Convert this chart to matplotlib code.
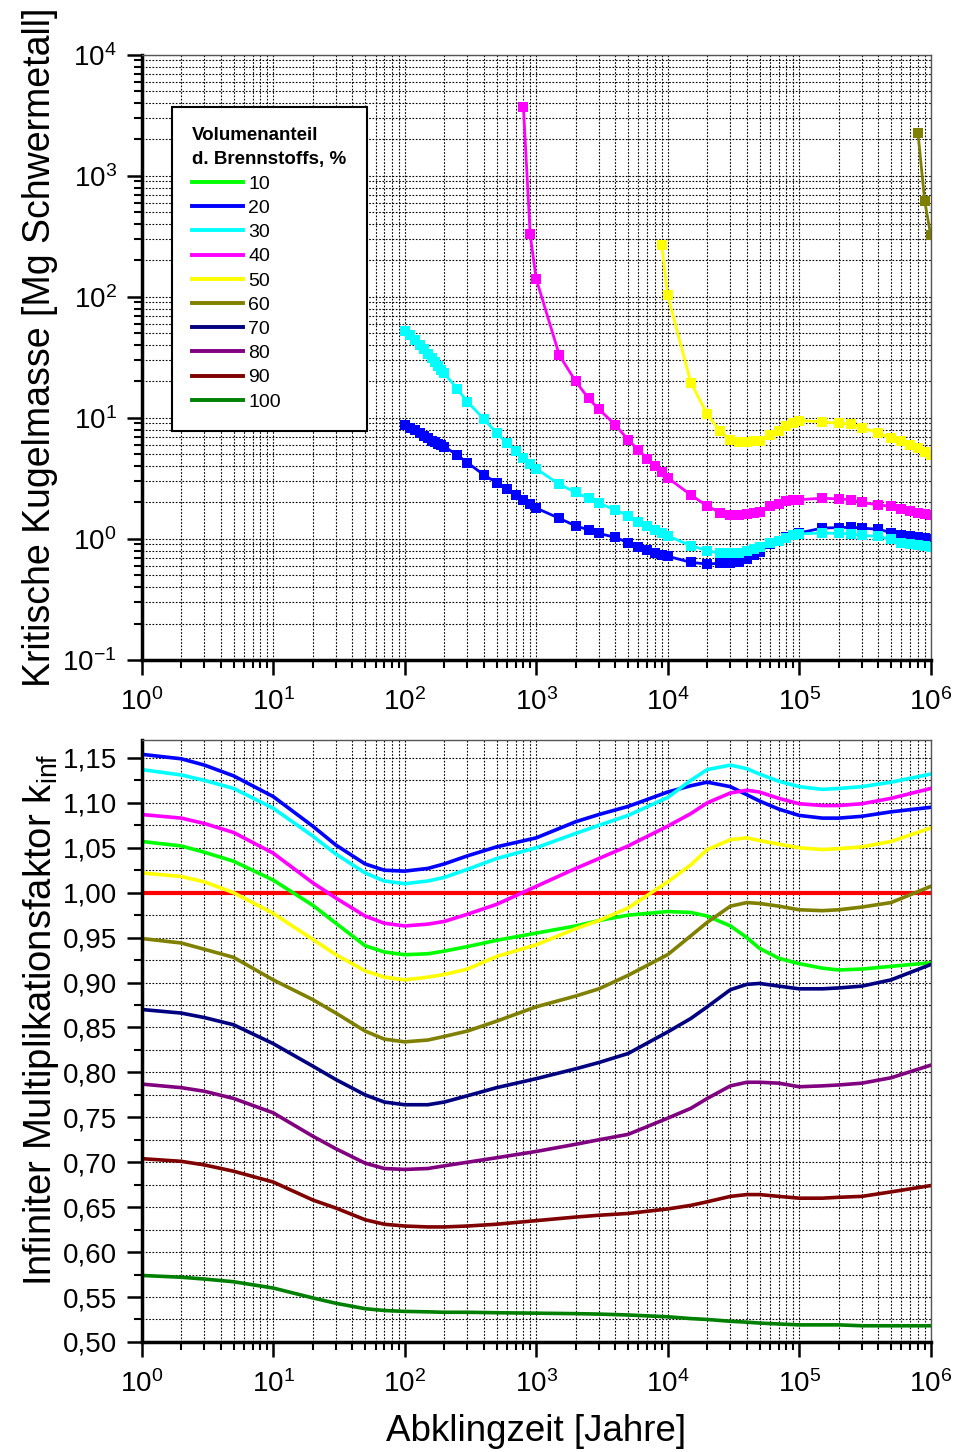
import numpy as np
import matplotlib
matplotlib.use("Agg")
import matplotlib.pyplot as plt
from matplotlib.lines import Line2D
from matplotlib.ticker import LogLocator, MultipleLocator, FuncFormatter, NullFormatter

plt.rcParams["font.family"] = ["Liberation Sans", "DejaVu Sans"]
plt.rcParams["mathtext.fontset"] = "custom"
plt.rcParams["mathtext.rm"] = "Liberation Sans"
plt.rcParams["mathtext.it"] = "Liberation Sans:italic"
plt.rcParams["mathtext.bf"] = "Liberation Sans:bold"
plt.rcParams["axes.unicode_minus"] = False

# ---------------- data ----------------
fractions = ["10", "20", "30", "40", "50", "60", "70", "80", "90", "100"]
colors = ["#00ff00", "#0000ff", "#00ffff", "#ff00ff", "#ffff00",
          "#808000", "#000080", "#800080", "#800000", "#008000"]

# top panel: critical sphere mass [Mg HM] vs decay time [a]
t_top = [100, 110, 120, 130, 140, 150, 160, 170, 180, 190, 200, 250, 300, 400, 500,
         600, 700, 800, 900, 1000, 1500, 2000, 2500, 3000, 4000, 5000, 6000, 7000,
         8000, 9000, 10000, 15000, 20000, 25000, 30000, 35000, 40000, 45000, 50000,
         60000, 70000, 80000, 90000, 100000, 150000, 200000, 250000, 300000, 400000,
         500000, 600000, 700000, 800000, 900000, 1000000]
mass_20 = [8.75, 8.3, 7.9, 7.5, 7.1, 6.8, 6.5, 6.3, 6.1, 5.95, 5.8, 4.94, 4.27, 3.38, 2.92,
           2.57, 2.31, 2.1, 1.95, 1.80, 1.48, 1.28, 1.19, 1.11, 1.03, 0.93, 0.86, 0.81,
           0.77, 0.74, 0.72, 0.64, 0.62, 0.63, 0.63, 0.65, 0.68, 0.73, 0.785,
           0.90, 0.97, 1.04, 1.08, 1.12, 1.23, 1.24, 1.25, 1.23, 1.20,
           1.13, 1.07, 1.05, 1.03, 1.01, 1.0]
mass_30 = [52, 48, 44, 40, 37, 34, 31, 29, 27, 25, 23.4, 17.5, 13.6, 9.8, 7.5,
           6.2, 5.3, 4.7, 4.2, 3.8, 2.83, 2.42, 2.17, 1.97, 1.74, 1.55, 1.39, 1.28,
           1.18, 1.11, 1.06, 0.88, 0.80, 0.76, 0.76, 0.77, 0.80, 0.83, 0.86,
           0.92, 0.97, 1.02, 1.07, 1.10, 1.12, 1.11, 1.10, 1.07, 1.05,
           0.99, 0.93, 0.91, 0.89, 0.87, 0.86]
t_40 = [800, 900, 1000, 1500, 2000, 2500, 3000, 4000, 5000, 6000, 7000, 8000, 9000,
        10000, 15000, 20000, 25000, 30000, 35000, 40000, 45000, 50000, 60000, 70000,
        80000, 90000, 100000, 150000, 200000, 250000, 300000, 400000, 500000, 600000,
        700000, 800000, 900000, 1000000]
mass_40 = [3700, 330, 141, 33, 20, 14.5, 11.8, 8.75, 6.6, 5.4, 4.6, 4.0, 3.6,
           3.2, 2.31, 1.87, 1.65, 1.58, 1.57, 1.60, 1.63, 1.68, 1.86, 1.95,
           2.04, 2.08, 2.11, 2.17, 2.14, 2.11, 2.0, 1.91, 1.86, 1.76,
           1.70, 1.65, 1.61, 1.57]
t_50 = [9000, 10000, 15000, 20000, 25000, 30000, 35000, 40000, 45000, 50000, 60000,
        70000, 80000, 90000, 100000, 150000, 200000, 250000, 300000, 400000, 500000,
        600000, 700000, 800000, 900000, 1000000]
mass_50 = [270, 103, 19.6, 10.7, 7.8, 6.6, 6.3, 6.3, 6.4, 6.5, 7.2,
           7.8, 8.5, 9.0, 9.5, 9.3, 9.0, 8.9, 8.3, 7.5, 6.8,
           6.4, 6.0, 5.6, 5.2, 4.9]
t_60 = [800000, 900000, 1000000]
mass_60 = [2280, 625, 325]

# bottom panel: k_inf vs decay time [a]
t_bot = [1, 2, 3, 5, 10, 20, 30, 50, 70, 100, 150, 200, 300, 500, 1000, 2000, 3000,
         5000, 10000, 15000, 20000, 30000, 40000, 50000, 70000, 100000, 150000,
         200000, 300000, 500000, 1000000]
k_10 = [1.057, 1.052, 1.045, 1.035, 1.014, 0.986, 0.966, 0.941, 0.934, 0.931, 0.932,
        0.935, 0.940, 0.947, 0.955, 0.963, 0.969, 0.975, 0.979, 0.978, 0.974, 0.963,
        0.950, 0.938, 0.927, 0.921, 0.916, 0.914, 0.915, 0.918, 0.922]
k_20 = [1.154, 1.149, 1.142, 1.130, 1.107, 1.074, 1.053, 1.032, 1.025, 1.024, 1.027,
        1.032, 1.041, 1.051, 1.061, 1.079, 1.087, 1.096, 1.112, 1.119, 1.123, 1.118,
        1.109, 1.102, 1.093, 1.086, 1.083, 1.083, 1.085, 1.090, 1.095]
k_30 = [1.137, 1.131, 1.125, 1.116, 1.094, 1.063, 1.043, 1.022, 1.013, 1.010, 1.013,
        1.017, 1.026, 1.038, 1.050, 1.066, 1.075, 1.086, 1.106, 1.125, 1.137, 1.142,
        1.138, 1.132, 1.124, 1.118, 1.115, 1.116, 1.118, 1.123, 1.132]
k_40 = [1.087, 1.083, 1.077, 1.067, 1.044, 1.011, 0.994, 0.974, 0.966, 0.963, 0.965,
        0.968, 0.976, 0.987, 1.007, 1.027, 1.038, 1.052, 1.074, 1.088, 1.100, 1.111,
        1.114, 1.112, 1.105, 1.099, 1.097, 1.097, 1.099, 1.105, 1.116]
k_50 = [1.022, 1.018, 1.012, 1.000, 0.977, 0.948, 0.931, 0.913, 0.906, 0.903, 0.906,
        0.909, 0.915, 0.929, 0.942, 0.960, 0.969, 0.983, 1.012, 1.031, 1.048, 1.059,
        1.061, 1.058, 1.054, 1.050, 1.048, 1.049, 1.051, 1.057, 1.072]
k_60 = [0.949, 0.944, 0.937, 0.928, 0.903, 0.881, 0.866, 0.846, 0.837, 0.834, 0.836,
        0.840, 0.846, 0.857, 0.873, 0.885, 0.893, 0.908, 0.931, 0.952, 0.967, 0.985,
        0.989, 0.988, 0.985, 0.981, 0.980, 0.981, 0.984, 0.989, 1.007]
k_70 = [0.870, 0.866, 0.861, 0.853, 0.832, 0.807, 0.792, 0.775, 0.767, 0.764, 0.764,
        0.767, 0.774, 0.783, 0.793, 0.804, 0.811, 0.821, 0.845, 0.860, 0.873, 0.892,
        0.898, 0.899, 0.896, 0.893, 0.893, 0.894, 0.896, 0.903, 0.920]
k_80 = [0.787, 0.783, 0.779, 0.771, 0.755, 0.729, 0.715, 0.699, 0.693, 0.692, 0.693,
        0.696, 0.700, 0.705, 0.712, 0.720, 0.725, 0.731, 0.749, 0.760, 0.771, 0.785,
        0.789, 0.789, 0.788, 0.784, 0.785, 0.786, 0.788, 0.794, 0.808]
k_90 = [0.704, 0.701, 0.697, 0.690, 0.678, 0.658, 0.649, 0.636, 0.631, 0.629, 0.628,
        0.628, 0.629, 0.631, 0.635, 0.639, 0.641, 0.643, 0.648, 0.652, 0.656, 0.662,
        0.664, 0.664, 0.662, 0.660, 0.660, 0.661, 0.662, 0.667, 0.674]
k_100 = [0.574, 0.572, 0.570, 0.567, 0.560, 0.549, 0.543, 0.537, 0.535, 0.534, 0.5335,
         0.533, 0.533, 0.5325, 0.532, 0.5315, 0.531, 0.530, 0.528, 0.526, 0.525, 0.523,
         0.522, 0.521, 0.520, 0.519, 0.519, 0.519, 0.518, 0.518, 0.518]
k_crit = 1.0

x_ticks = [1e0, 1e1, 1e2, 1e3, 1e4, 1e5, 1e6]
y_ticks_top = [1e-1, 1e0, 1e1, 1e2, 1e3, 1e4]

# ---------------- figure ----------------
fig = plt.figure(figsize=(9.56, 14.52), dpi=100)
ax1 = fig.add_axes([0.1482, 0.5455, 0.8253, 0.4167])
ax2 = fig.add_axes([0.1482, 0.0758, 0.8253, 0.4146])

grid_kw = dict(color="black", linestyle=(0, (1.5, 1.5)), linewidth=0.8)


def style_axis(ax):
    ax.set_xscale("log")
    ax.set_xlim(1, 1e6)
    ax.set_xticks(x_ticks)
    ax.xaxis.set_minor_locator(LogLocator(base=10, subs=np.arange(2, 10), numticks=10))
    ax.xaxis.set_minor_formatter(NullFormatter())
    ax.tick_params(which="major", direction="out", length=11, width=1.8, labelsize=20, pad=7)
    ax.tick_params(which="minor", direction="out", length=6, width=1.5)
    ax.tick_params(axis="x", which="major", pad=9)
    ax.tick_params(axis="both", top=False, right=False)
    for side in ["left", "bottom"]:
        ax.spines[side].set_linewidth(2.5)
    for side in ["top", "right"]:
        ax.spines[side].set_linewidth(1.0)
        ax.spines[side].set_color("#555555")
    ax.grid(True, which="both", **grid_kw)
    ax.set_axisbelow(True)


# top panel
style_axis(ax1)
ax1.set_yscale("log")
ax1.set_ylim(0.1, 1e4)
ax1.set_yticks(y_ticks_top)
ax1.yaxis.set_minor_locator(LogLocator(base=10, subs=np.arange(2, 10), numticks=10))
ax1.yaxis.set_minor_formatter(NullFormatter())

mark_kw = dict(marker="s", markersize=7, linewidth=2.0, markeredgewidth=0)
ax1.plot(t_top, mass_20, color=colors[1], **mark_kw)
ax1.plot(t_top, mass_30, color=colors[2], **mark_kw)
ax1.plot(t_40, mass_40, color=colors[3], **mark_kw)
ax1.plot(t_50, mass_50, color=colors[4], **mark_kw)
ax1.plot(t_60, mass_60, color=colors[5], **mark_kw)

ax1.set_ylabel("Kritische Kugelmasse [Mg Schwermetall]", fontsize=27)
ax1.yaxis.set_label_coords(-0.106, 0.516)

handles = [Line2D([], [], color=c, linewidth=2.8) for c in colors]
leg = ax1.legend(handles, fractions, title="Volumenanteil\nd. Brennstoffs, %",
                 loc="upper left", bbox_to_anchor=(0.038, 0.914), borderaxespad=0,
                 fontsize=14, title_fontsize=13.5, handlelength=2.6,
                 handletextpad=0.3, labelspacing=0.34, borderpad=1.05,
                 fancybox=False, framealpha=1, edgecolor="black")
leg.get_frame().set_linewidth(1.5)
leg.get_title().set_fontweight("bold")
leg.get_title().set_linespacing(1.55)
leg._legend_box.align = "left"

# bottom panel
style_axis(ax2)
ax2.set_ylim(0.5, 1.17)
ax2.yaxis.set_major_locator(MultipleLocator(0.05))
ax2.yaxis.set_minor_locator(MultipleLocator(0.025))
ax2.yaxis.set_major_formatter(FuncFormatter(lambda v, p: f"{v:.2f}".replace(".", ",")))

k_series = [k_10, k_20, k_30, k_40, k_50, k_60, k_70, k_80, k_90, k_100]
for k, c in zip(k_series, colors):
    ax2.plot(t_bot, k, color=c, linewidth=2.6)
ax2.axhline(k_crit, color="#ff0000", linewidth=3.0, zorder=1.5)

ax2.set_ylabel(r"Infiniter Multiplikationsfaktor k$_{\mathrm{inf}}$", fontsize=27.5)
ax2.yaxis.set_label_coords(-0.102, 0.535)
ax2.set_xlabel("Abklingzeit [Jahre]", fontsize=26.5, labelpad=12)

plt.savefig("out.png", dpi=100)
plt.close()
